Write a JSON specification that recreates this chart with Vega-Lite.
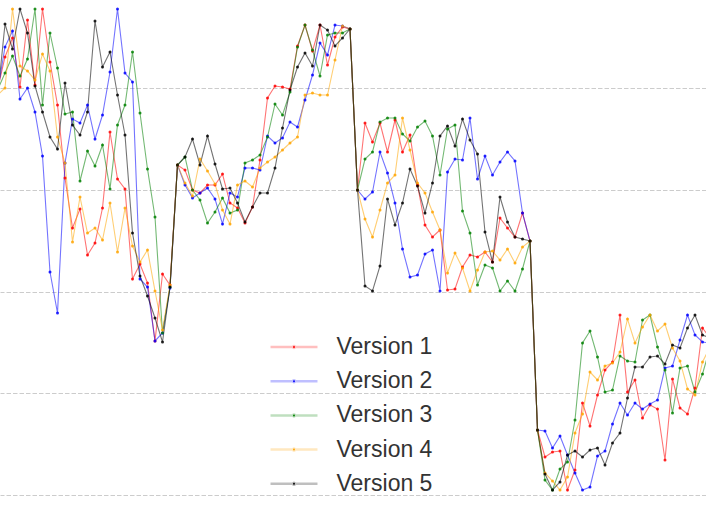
{
"$schema":"https://vega.github.io/schema/vega-lite/v6.json",
"width":706,"height":512,"padding":0,"autosize":{"type":"pad"},"background":"white",
"config":{"view":{"stroke":null},"axis":{"minExtent":0,"maxExtent":0}},
"data":{"values":[
{"step":0,"version":"Version 1","value":405},{"step":1,"version":"Version 1","value":438},{"step":2,"version":"Version 1","value":457},{"step":3,"version":"Version 1","value":408},{"step":4,"version":"Version 1","value":475},{"step":5,"version":"Version 1","value":410},{"step":6,"version":"Version 1","value":486},{"step":7,"version":"Version 1","value":433},{"step":8,"version":"Version 1","value":390},{"step":9,"version":"Version 1","value":317},{"step":10,"version":"Version 1","value":267},{"step":11,"version":"Version 1","value":286},{"step":12,"version":"Version 1","value":240},{"step":13,"version":"Version 1","value":252},{"step":14,"version":"Version 1","value":287},{"step":15,"version":"Version 1","value":363},{"step":16,"version":"Version 1","value":316},{"step":17,"version":"Version 1","value":306},{"step":18,"version":"Version 1","value":216},{"step":19,"version":"Version 1","value":231},{"step":20,"version":"Version 1","value":212},{"step":21,"version":"Version 1","value":154},{"step":22,"version":"Version 1","value":221},{"step":23,"version":"Version 1","value":210},
{"step":24,"version":"Version 1","value":330},{"step":25,"version":"Version 1","value":325},{"step":26,"version":"Version 1","value":305},{"step":27,"version":"Version 1","value":302},{"step":28,"version":"Version 1","value":310},{"step":29,"version":"Version 1","value":310},{"step":30,"version":"Version 1","value":321},{"step":31,"version":"Version 1","value":292},{"step":32,"version":"Version 1","value":287},{"step":33,"version":"Version 1","value":272},{"step":34,"version":"Version 1","value":288},{"step":35,"version":"Version 1","value":335},{"step":36,"version":"Version 1","value":397},{"step":37,"version":"Version 1","value":409},{"step":38,"version":"Version 1","value":408},{"step":39,"version":"Version 1","value":406},{"step":40,"version":"Version 1","value":449},{"step":41,"version":"Version 1","value":470},{"step":42,"version":"Version 1","value":444},{"step":43,"version":"Version 1","value":470},{"step":44,"version":"Version 1","value":430},{"step":45,"version":"Version 1","value":458},{"step":46,"version":"Version 1","value":468},{"step":47,"version":"Version 1","value":466},
{"step":48,"version":"Version 1","value":305},{"step":49,"version":"Version 1","value":372},{"step":50,"version":"Version 1","value":353},{"step":51,"version":"Version 1","value":372},{"step":52,"version":"Version 1","value":343},{"step":53,"version":"Version 1","value":375},{"step":54,"version":"Version 1","value":343},{"step":55,"version":"Version 1","value":360},{"step":56,"version":"Version 1","value":310},{"step":57,"version":"Version 1","value":270},{"step":58,"version":"Version 1","value":258},{"step":59,"version":"Version 1","value":265},{"step":60,"version":"Version 1","value":205},{"step":61,"version":"Version 1","value":206},{"step":62,"version":"Version 1","value":228},{"step":63,"version":"Version 1","value":240},{"step":64,"version":"Version 1","value":238},{"step":65,"version":"Version 1","value":243},{"step":66,"version":"Version 1","value":233},{"step":67,"version":"Version 1","value":277},{"step":68,"version":"Version 1","value":267},{"step":69,"version":"Version 1","value":258},{"step":70,"version":"Version 1","value":282},{"step":71,"version":"Version 1","value":254},
{"step":72,"version":"Version 1","value":65},{"step":73,"version":"Version 1","value":38},{"step":74,"version":"Version 1","value":43},{"step":75,"version":"Version 1","value":44},{"step":76,"version":"Version 1","value":5},{"step":77,"version":"Version 1","value":25},{"step":78,"version":"Version 1","value":92},{"step":79,"version":"Version 1","value":69},{"step":80,"version":"Version 1","value":100},{"step":81,"version":"Version 1","value":125},{"step":82,"version":"Version 1","value":133},{"step":83,"version":"Version 1","value":180},{"step":84,"version":"Version 1","value":103},{"step":85,"version":"Version 1","value":115},{"step":86,"version":"Version 1","value":77},{"step":87,"version":"Version 1","value":90},{"step":88,"version":"Version 1","value":86},{"step":89,"version":"Version 1","value":35},{"step":90,"version":"Version 1","value":116},{"step":91,"version":"Version 1","value":87},{"step":92,"version":"Version 1","value":81},{"step":93,"version":"Version 1","value":107},{"step":94,"version":"Version 1","value":167},{"step":95,"version":"Version 1","value":157},
{"step":0,"version":"Version 2","value":403},{"step":1,"version":"Version 2","value":448},{"step":2,"version":"Version 2","value":464},{"step":3,"version":"Version 2","value":396},{"step":4,"version":"Version 2","value":407},{"step":5,"version":"Version 2","value":383},{"step":6,"version":"Version 2","value":339},{"step":7,"version":"Version 2","value":223},{"step":8,"version":"Version 2","value":182},{"step":9,"version":"Version 2","value":332},{"step":10,"version":"Version 2","value":376},{"step":11,"version":"Version 2","value":372},{"step":12,"version":"Version 2","value":390},{"step":13,"version":"Version 2","value":356},{"step":14,"version":"Version 2","value":380},{"step":15,"version":"Version 2","value":423},{"step":16,"version":"Version 2","value":486},{"step":17,"version":"Version 2","value":422},{"step":18,"version":"Version 2","value":413},{"step":19,"version":"Version 2","value":216},{"step":20,"version":"Version 2","value":208},{"step":21,"version":"Version 2","value":154},{"step":22,"version":"Version 2","value":162},{"step":23,"version":"Version 2","value":207},
{"step":24,"version":"Version 2","value":330},{"step":25,"version":"Version 2","value":310},{"step":26,"version":"Version 2","value":297},{"step":27,"version":"Version 2","value":302},{"step":28,"version":"Version 2","value":307},{"step":29,"version":"Version 2","value":296},{"step":30,"version":"Version 2","value":271},{"step":31,"version":"Version 2","value":302},{"step":32,"version":"Version 2","value":298},{"step":33,"version":"Version 2","value":327},{"step":34,"version":"Version 2","value":327},{"step":35,"version":"Version 2","value":325},{"step":36,"version":"Version 2","value":359},{"step":37,"version":"Version 2","value":352},{"step":38,"version":"Version 2","value":357},{"step":39,"version":"Version 2","value":373},{"step":40,"version":"Version 2","value":368},{"step":41,"version":"Version 2","value":395},{"step":42,"version":"Version 2","value":420},{"step":43,"version":"Version 2","value":452},{"step":44,"version":"Version 2","value":440},{"step":45,"version":"Version 2","value":470},{"step":46,"version":"Version 2","value":469},{"step":47,"version":"Version 2","value":466},
{"step":48,"version":"Version 2","value":305},{"step":49,"version":"Version 2","value":296},{"step":50,"version":"Version 2","value":303},{"step":51,"version":"Version 2","value":343},{"step":52,"version":"Version 2","value":322},{"step":53,"version":"Version 2","value":292},{"step":54,"version":"Version 2","value":246},{"step":55,"version":"Version 2","value":218},{"step":56,"version":"Version 2","value":220},{"step":57,"version":"Version 2","value":241},{"step":58,"version":"Version 2","value":245},{"step":59,"version":"Version 2","value":204},{"step":60,"version":"Version 2","value":323},{"step":61,"version":"Version 2","value":336},{"step":62,"version":"Version 2","value":335},{"step":63,"version":"Version 2","value":377},{"step":64,"version":"Version 2","value":316},{"step":65,"version":"Version 2","value":339},{"step":66,"version":"Version 2","value":320},{"step":67,"version":"Version 2","value":333},{"step":68,"version":"Version 2","value":343},{"step":69,"version":"Version 2","value":334},{"step":70,"version":"Version 2","value":282},{"step":71,"version":"Version 2","value":254},
{"step":72,"version":"Version 2","value":65},{"step":73,"version":"Version 2","value":64},{"step":74,"version":"Version 2","value":47},{"step":75,"version":"Version 2","value":59},{"step":76,"version":"Version 2","value":40},{"step":77,"version":"Version 2","value":22},{"step":78,"version":"Version 2","value":5},{"step":79,"version":"Version 2","value":8},{"step":80,"version":"Version 2","value":39},{"step":81,"version":"Version 2","value":44},{"step":82,"version":"Version 2","value":71},{"step":83,"version":"Version 2","value":92},{"step":84,"version":"Version 2","value":80},{"step":85,"version":"Version 2","value":92},{"step":86,"version":"Version 2","value":86},{"step":87,"version":"Version 2","value":91},{"step":88,"version":"Version 2","value":95},{"step":89,"version":"Version 2","value":127},{"step":90,"version":"Version 2","value":129},{"step":91,"version":"Version 2","value":155},{"step":92,"version":"Version 2","value":180},{"step":93,"version":"Version 2","value":160},{"step":94,"version":"Version 2","value":153},{"step":95,"version":"Version 2","value":152},
{"step":0,"version":"Version 3","value":405},{"step":1,"version":"Version 3","value":422},{"step":2,"version":"Version 3","value":439},{"step":3,"version":"Version 3","value":419},{"step":4,"version":"Version 3","value":436},{"step":5,"version":"Version 3","value":486},{"step":6,"version":"Version 3","value":390},{"step":7,"version":"Version 3","value":462},{"step":8,"version":"Version 3","value":427},{"step":9,"version":"Version 3","value":381},{"step":10,"version":"Version 3","value":383},{"step":11,"version":"Version 3","value":314},{"step":12,"version":"Version 3","value":344},{"step":13,"version":"Version 3","value":329},{"step":14,"version":"Version 3","value":350},{"step":15,"version":"Version 3","value":306},{"step":16,"version":"Version 3","value":370},{"step":17,"version":"Version 3","value":390},{"step":18,"version":"Version 3","value":443},{"step":19,"version":"Version 3","value":382},{"step":20,"version":"Version 3","value":326},{"step":21,"version":"Version 3","value":278},{"step":22,"version":"Version 3","value":162},{"step":23,"version":"Version 3","value":208},
{"step":24,"version":"Version 3","value":330},{"step":25,"version":"Version 3","value":338},{"step":26,"version":"Version 3","value":305},{"step":27,"version":"Version 3","value":295},{"step":28,"version":"Version 3","value":272},{"step":29,"version":"Version 3","value":283},{"step":30,"version":"Version 3","value":297},{"step":31,"version":"Version 3","value":282},{"step":32,"version":"Version 3","value":285},{"step":33,"version":"Version 3","value":332},{"step":34,"version":"Version 3","value":335},{"step":35,"version":"Version 3","value":340},{"step":36,"version":"Version 3","value":358},{"step":37,"version":"Version 3","value":391},{"step":38,"version":"Version 3","value":380},{"step":39,"version":"Version 3","value":403},{"step":40,"version":"Version 3","value":448},{"step":41,"version":"Version 3","value":470},{"step":42,"version":"Version 3","value":445},{"step":43,"version":"Version 3","value":419},{"step":44,"version":"Version 3","value":460},{"step":45,"version":"Version 3","value":462},{"step":46,"version":"Version 3","value":462},{"step":47,"version":"Version 3","value":466},
{"step":48,"version":"Version 3","value":305},{"step":49,"version":"Version 3","value":336},{"step":50,"version":"Version 3","value":343},{"step":51,"version":"Version 3","value":373},{"step":52,"version":"Version 3","value":377},{"step":53,"version":"Version 3","value":377},{"step":54,"version":"Version 3","value":361},{"step":55,"version":"Version 3","value":354},{"step":56,"version":"Version 3","value":368},{"step":57,"version":"Version 3","value":374},{"step":58,"version":"Version 3","value":359},{"step":59,"version":"Version 3","value":320},{"step":60,"version":"Version 3","value":366},{"step":61,"version":"Version 3","value":370},{"step":62,"version":"Version 3","value":284},{"step":63,"version":"Version 3","value":262},{"step":64,"version":"Version 3","value":210},{"step":65,"version":"Version 3","value":230},{"step":66,"version":"Version 3","value":227},{"step":67,"version":"Version 3","value":204},{"step":68,"version":"Version 3","value":214},{"step":69,"version":"Version 3","value":204},{"step":70,"version":"Version 3","value":226},{"step":71,"version":"Version 3","value":254},
{"step":72,"version":"Version 3","value":65},{"step":73,"version":"Version 3","value":15},{"step":74,"version":"Version 3","value":5},{"step":75,"version":"Version 3","value":26},{"step":76,"version":"Version 3","value":33},{"step":77,"version":"Version 3","value":75},{"step":78,"version":"Version 3","value":152},{"step":79,"version":"Version 3","value":164},{"step":80,"version":"Version 3","value":138},{"step":81,"version":"Version 3","value":103},{"step":82,"version":"Version 3","value":105},{"step":83,"version":"Version 3","value":139},{"step":84,"version":"Version 3","value":134},{"step":85,"version":"Version 3","value":133},{"step":86,"version":"Version 3","value":175},{"step":87,"version":"Version 3","value":180},{"step":88,"version":"Version 3","value":148},{"step":89,"version":"Version 3","value":125},{"step":90,"version":"Version 3","value":82},{"step":91,"version":"Version 3","value":127},{"step":92,"version":"Version 3","value":129},{"step":93,"version":"Version 3","value":103},{"step":94,"version":"Version 3","value":121},{"step":95,"version":"Version 3","value":147},
{"step":0,"version":"Version 4","value":400},{"step":1,"version":"Version 4","value":407},{"step":2,"version":"Version 4","value":486},{"step":3,"version":"Version 4","value":429},{"step":4,"version":"Version 4","value":424},{"step":5,"version":"Version 4","value":415},{"step":6,"version":"Version 4","value":441},{"step":7,"version":"Version 4","value":424},{"step":8,"version":"Version 4","value":358},{"step":9,"version":"Version 4","value":332},{"step":10,"version":"Version 4","value":253},{"step":11,"version":"Version 4","value":298},{"step":12,"version":"Version 4","value":262},{"step":13,"version":"Version 4","value":267},{"step":14,"version":"Version 4","value":255},{"step":15,"version":"Version 4","value":292},{"step":16,"version":"Version 4","value":243},{"step":17,"version":"Version 4","value":287},{"step":18,"version":"Version 4","value":249},{"step":19,"version":"Version 4","value":233},{"step":20,"version":"Version 4","value":245},{"step":21,"version":"Version 4","value":204},{"step":22,"version":"Version 4","value":165},{"step":23,"version":"Version 4","value":210},
{"step":24,"version":"Version 4","value":330},{"step":25,"version":"Version 4","value":312},{"step":26,"version":"Version 4","value":299},{"step":27,"version":"Version 4","value":336},{"step":28,"version":"Version 4","value":324},{"step":29,"version":"Version 4","value":311},{"step":30,"version":"Version 4","value":285},{"step":31,"version":"Version 4","value":271},{"step":32,"version":"Version 4","value":310},{"step":33,"version":"Version 4","value":314},{"step":34,"version":"Version 4","value":308},{"step":35,"version":"Version 4","value":327},{"step":36,"version":"Version 4","value":333},{"step":37,"version":"Version 4","value":338},{"step":38,"version":"Version 4","value":345},{"step":39,"version":"Version 4","value":352},{"step":40,"version":"Version 4","value":358},{"step":41,"version":"Version 4","value":400},{"step":42,"version":"Version 4","value":402},{"step":43,"version":"Version 4","value":400},{"step":44,"version":"Version 4","value":400},{"step":45,"version":"Version 4","value":435},{"step":46,"version":"Version 4","value":469},{"step":47,"version":"Version 4","value":466},
{"step":48,"version":"Version 4","value":305},{"step":49,"version":"Version 4","value":276},{"step":50,"version":"Version 4","value":258},{"step":51,"version":"Version 4","value":285},{"step":52,"version":"Version 4","value":312},{"step":53,"version":"Version 4","value":320},{"step":54,"version":"Version 4","value":377},{"step":55,"version":"Version 4","value":345},{"step":56,"version":"Version 4","value":312},{"step":57,"version":"Version 4","value":302},{"step":58,"version":"Version 4","value":283},{"step":59,"version":"Version 4","value":265},{"step":60,"version":"Version 4","value":222},{"step":61,"version":"Version 4","value":242},{"step":62,"version":"Version 4","value":227},{"step":63,"version":"Version 4","value":204},{"step":64,"version":"Version 4","value":225},{"step":65,"version":"Version 4","value":243},{"step":66,"version":"Version 4","value":244},{"step":67,"version":"Version 4","value":235},{"step":68,"version":"Version 4","value":246},{"step":69,"version":"Version 4","value":232},{"step":70,"version":"Version 4","value":248},{"step":71,"version":"Version 4","value":254},
{"step":72,"version":"Version 4","value":65},{"step":73,"version":"Version 4","value":22},{"step":74,"version":"Version 4","value":14},{"step":75,"version":"Version 4","value":5},{"step":76,"version":"Version 4","value":18},{"step":77,"version":"Version 4","value":62},{"step":78,"version":"Version 4","value":81},{"step":79,"version":"Version 4","value":123},{"step":80,"version":"Version 4","value":115},{"step":81,"version":"Version 4","value":129},{"step":82,"version":"Version 4","value":132},{"step":83,"version":"Version 4","value":143},{"step":84,"version":"Version 4","value":176},{"step":85,"version":"Version 4","value":152},{"step":86,"version":"Version 4","value":168},{"step":87,"version":"Version 4","value":180},{"step":88,"version":"Version 4","value":164},{"step":89,"version":"Version 4","value":171},{"step":90,"version":"Version 4","value":147},{"step":91,"version":"Version 4","value":134},{"step":92,"version":"Version 4","value":106},{"step":93,"version":"Version 4","value":100},{"step":94,"version":"Version 4","value":133},{"step":95,"version":"Version 4","value":148},
{"step":0,"version":"Version 5","value":397},{"step":1,"version":"Version 5","value":471},{"step":2,"version":"Version 5","value":446},{"step":3,"version":"Version 5","value":486},{"step":4,"version":"Version 5","value":462},{"step":5,"version":"Version 5","value":409},{"step":6,"version":"Version 5","value":383},{"step":7,"version":"Version 5","value":358},{"step":8,"version":"Version 5","value":346},{"step":9,"version":"Version 5","value":412},{"step":10,"version":"Version 5","value":370},{"step":11,"version":"Version 5","value":360},{"step":12,"version":"Version 5","value":383},{"step":13,"version":"Version 5","value":474},{"step":14,"version":"Version 5","value":428},{"step":15,"version":"Version 5","value":443},{"step":16,"version":"Version 5","value":400},{"step":17,"version":"Version 5","value":360},{"step":18,"version":"Version 5","value":262},{"step":19,"version":"Version 5","value":219},{"step":20,"version":"Version 5","value":199},{"step":21,"version":"Version 5","value":177},{"step":22,"version":"Version 5","value":153},{"step":23,"version":"Version 5","value":208},
{"step":24,"version":"Version 5","value":330},{"step":25,"version":"Version 5","value":338},{"step":26,"version":"Version 5","value":356},{"step":27,"version":"Version 5","value":330},{"step":28,"version":"Version 5","value":359},{"step":29,"version":"Version 5","value":331},{"step":30,"version":"Version 5","value":306},{"step":31,"version":"Version 5","value":307},{"step":32,"version":"Version 5","value":292},{"step":33,"version":"Version 5","value":273},{"step":34,"version":"Version 5","value":288},{"step":35,"version":"Version 5","value":302},{"step":36,"version":"Version 5","value":302},{"step":37,"version":"Version 5","value":327},{"step":38,"version":"Version 5","value":367},{"step":39,"version":"Version 5","value":405},{"step":40,"version":"Version 5","value":428},{"step":41,"version":"Version 5","value":442},{"step":42,"version":"Version 5","value":429},{"step":43,"version":"Version 5","value":470},{"step":44,"version":"Version 5","value":465},{"step":45,"version":"Version 5","value":449},{"step":46,"version":"Version 5","value":457},{"step":47,"version":"Version 5","value":466},
{"step":48,"version":"Version 5","value":305},{"step":49,"version":"Version 5","value":209},{"step":50,"version":"Version 5","value":204},{"step":51,"version":"Version 5","value":229},{"step":52,"version":"Version 5","value":296},{"step":53,"version":"Version 5","value":270},{"step":54,"version":"Version 5","value":292},{"step":55,"version":"Version 5","value":326},{"step":56,"version":"Version 5","value":309},{"step":57,"version":"Version 5","value":282},{"step":58,"version":"Version 5","value":312},{"step":59,"version":"Version 5","value":359},{"step":60,"version":"Version 5","value":369},{"step":61,"version":"Version 5","value":349},{"step":62,"version":"Version 5","value":376},{"step":63,"version":"Version 5","value":355},{"step":64,"version":"Version 5","value":341},{"step":65,"version":"Version 5","value":263},{"step":66,"version":"Version 5","value":233},{"step":67,"version":"Version 5","value":298},{"step":68,"version":"Version 5","value":273},{"step":69,"version":"Version 5","value":258},{"step":70,"version":"Version 5","value":256},{"step":71,"version":"Version 5","value":254},
{"step":72,"version":"Version 5","value":65},{"step":73,"version":"Version 5","value":21},{"step":74,"version":"Version 5","value":5},{"step":75,"version":"Version 5","value":13},{"step":76,"version":"Version 5","value":40},{"step":77,"version":"Version 5","value":44},{"step":78,"version":"Version 5","value":38},{"step":79,"version":"Version 5","value":45},{"step":80,"version":"Version 5","value":47},{"step":81,"version":"Version 5","value":30},{"step":82,"version":"Version 5","value":52},{"step":83,"version":"Version 5","value":62},{"step":84,"version":"Version 5","value":97},{"step":85,"version":"Version 5","value":128},{"step":86,"version":"Version 5","value":128},{"step":87,"version":"Version 5","value":138},{"step":88,"version":"Version 5","value":139},{"step":89,"version":"Version 5","value":131},{"step":90,"version":"Version 5","value":150},{"step":91,"version":"Version 5","value":147},{"step":92,"version":"Version 5","value":167},{"step":93,"version":"Version 5","value":180},{"step":94,"version":"Version 5","value":160},{"step":95,"version":"Version 5","value":157}
]},
"encoding":{
"x":{"field":"step","type":"quantitative","scale":{"domain":[0.333,94.467],"nice":false,"zero":false},"axis":{"orient":"bottom","domain":true,"domainColor":"#e6e6e6","domainWidth":1,"ticks":false,"labels":false,"grid":false,"title":null}},
"y":{"field":"value","type":"quantitative","scale":{"domain":[-17,495],"nice":false,"zero":false},"axis":{"orient":"right","domain":true,"domainColor":"#e6e6e6","domainWidth":1,"ticks":false,"labels":false,"grid":true,"gridColor":"#cccccc","gridWidth":1,"gridDash":[4.5,2],"values":[0,102,203,305,407],"title":null}},
"color":{"field":"version","type":"nominal","scale":{"domain":["Version 1","Version 2","Version 3","Version 4","Version 5"],"range":["#ff0000","#0000ff","#008000","#ffa500","#000000"]},
"legend":{"orient":"none","legendX":281,"legendY":334,"title":null,"padding":0,"rowPadding":9.2,"labelOffset":29.5,"labelFont":"Liberation Sans","labelFontSize":23,"labelColor":"#333333","symbolType":"M-2,0H2M-0.085,0A0.085,0.085,0,1,0,0.085,0A0.085,0.085,0,1,0,-0.085,0Z","symbolSize":552,"symbolStrokeWidth":2.5,"symbolOpacity":1,
"encode":{"symbols":{"enter":{"strokeOpacity":{"value":0.25},"fillOpacity":{"value":0.9}},"update":{"fill":{"scale":"color","field":"value"},"stroke":{"scale":"color","field":"value"},"strokeOpacity":{"value":0.25},"fillOpacity":{"value":0.9}}}}}}
},
"layer":[
{"mark":{"type":"line","clip":true,"strokeWidth":1.1,"opacity":0.55}},
{"mark":{"type":"point","filled":true,"clip":true,"size":9,"opacity":0.85}}
]
}
